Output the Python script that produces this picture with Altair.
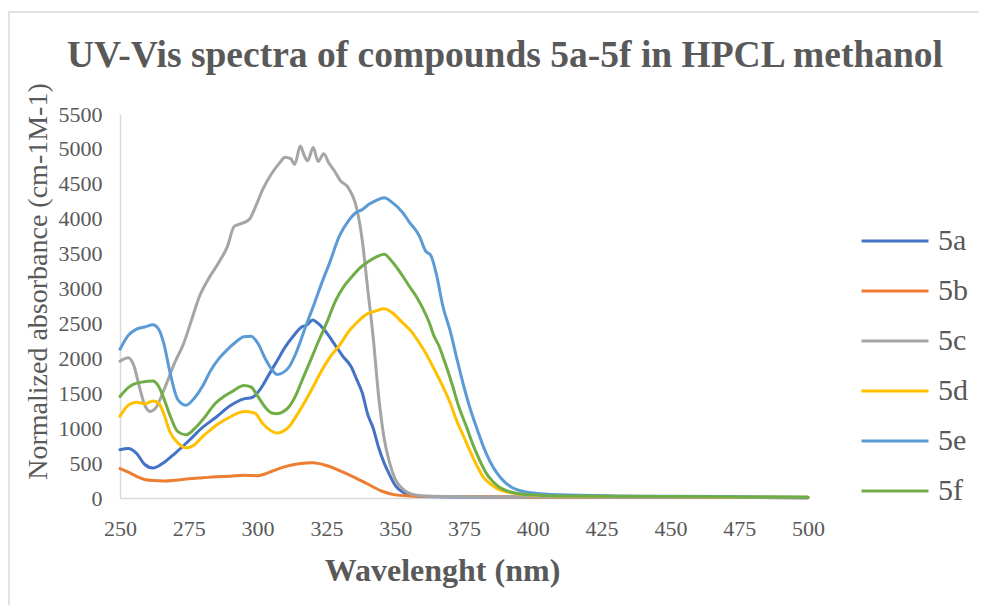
import altair as alt
import pandas as pd

# ---- data ----
wl_5a = [250, 253, 256, 259, 262, 266, 270, 275, 280, 285, 290, 295, 298, 301, 304, 307, 310, 313, 316, 318,
         320, 322, 325, 328, 331, 334, 336, 338, 340, 342, 344, 346, 348, 350, 353, 356, 360, 370, 380, 400, 450, 500]
ab_5a = [690, 710, 640, 480, 430, 510, 640, 820, 1010, 1160, 1320, 1420, 1440, 1560, 1760, 1960, 2160, 2320, 2450, 2480,
         2550, 2500, 2370, 2200, 2030, 1880, 1700, 1510, 1200, 1000, 720, 500, 330, 180, 80, 40, 20, 15, 15, 12, 10, 5]

wl_5b = [250, 253, 256, 259, 262, 266, 270, 275, 280, 285, 290, 295, 300, 305, 310, 315, 320, 325, 330, 335,
         340, 345, 350, 355, 360, 380, 400, 450, 500]
ab_5b = [420, 370, 310, 265, 250, 245, 255, 275, 290, 305, 310, 325, 320, 380, 450, 490, 505, 465, 390, 300,
         200, 100, 45, 30, 25, 20, 12, 10, 5]

wl_5c = [250, 253, 255, 257, 259, 261, 263, 266, 270, 273, 276, 279, 282, 286, 289, 291.5, 294, 297, 299, 302,
         305, 308, 310, 312, 313.5, 315.5, 317, 318.2, 320.2, 322, 324, 326, 328, 330, 333, 336, 338, 340, 342,
         344, 346, 348, 350, 353, 356, 360, 370, 400, 450, 500]
ab_5c = [1960, 2010, 1900, 1600, 1330, 1240, 1290, 1550, 1950, 2200, 2550, 2900, 3130, 3380, 3600, 3890, 3930, 3990, 4150, 4430,
         4640, 4800, 4880, 4860, 4780, 5040, 4900, 4830, 5020, 4820, 4930, 4790, 4680, 4550, 4440, 4150, 3700, 3000, 2300,
         1450, 850, 500, 270, 120, 55, 30, 20, 15, 10, 5]

wl_5d = [250, 253, 256, 259, 262, 264, 266, 268, 271, 274, 277, 280, 283, 286, 290, 293, 296, 299, 302, 305,
         307, 309, 311.5, 314, 317.5, 320, 323.5, 326, 330, 333, 336, 340, 343, 346, 349, 352.7, 356, 358.8, 361, 363,
         365, 367.3, 370, 372.2, 375, 377, 380, 382, 385, 388, 392, 395, 400, 420, 450, 500]
ab_5d = [1170, 1330, 1370, 1350, 1390, 1360, 1200, 960, 790, 720, 760, 880, 980, 1070, 1160, 1220, 1240, 1215, 1060, 960,
         930, 950, 1025, 1170, 1400, 1580, 1840, 2000, 2200, 2380, 2510, 2640, 2680, 2710, 2650, 2510, 2380, 2220, 2080, 1935,
         1780, 1600, 1360, 1120, 870, 690, 440, 300, 190, 115, 75, 57, 40, 25, 20, 10]

wl_5e = [250, 253, 256, 259, 262, 264, 266, 268, 271, 274, 277, 280, 283, 286, 289, 292, 295, 297.5, 300, 303,
         305, 307, 309, 311.5, 314, 317.5, 320, 323.6, 326, 329.7, 333, 335.8, 338, 340.6, 343, 346, 349, 352.7, 355, 358.8,
         361, 363, 365, 367.3, 370, 372.2, 375, 377, 380, 382, 384.5, 387, 390, 393, 397, 401, 410, 430, 450, 500]
ab_5e = [2130, 2330, 2420, 2450, 2480, 2420, 2200, 1830, 1410, 1330, 1430, 1600, 1830, 2000, 2126, 2230, 2310, 2315, 2222, 1980,
         1850, 1770, 1790, 1880, 2080, 2460, 2720, 3110, 3350, 3750, 3970, 4090, 4130, 4210, 4260, 4300, 4230, 4090, 3960, 3750,
         3540, 3470, 3200, 2750, 2390, 2030, 1590, 1310, 960, 740, 520, 355, 220, 140, 90, 67, 45, 30, 25, 10]

wl_5f = [250, 253, 255, 258, 262, 264, 266, 268, 271, 274, 277, 280, 284.8, 288, 291, 295, 297.6, 300, 303, 305,
         307, 309, 311.5, 314, 316.3, 319, 322.4, 325, 328.5, 331, 334.5, 337, 340.6, 343, 346, 349, 352.7, 355, 357.6, 360,
         362.4, 364, 366, 368, 370.9, 373, 375.8, 378, 380.6, 383, 385.5, 388, 391.6, 395, 399, 410, 450, 500]
ab_5f = [1455, 1580, 1630, 1660, 1675, 1600, 1420, 1200, 950, 905, 990, 1120, 1360, 1460, 1530, 1610, 1590, 1460, 1290, 1220,
         1207, 1230, 1310, 1480, 1700, 1950, 2270, 2500, 2840, 3010, 3180, 3290, 3395, 3450, 3490, 3380, 3180, 3040, 2890, 2720,
         2510, 2330, 2170, 1950, 1600, 1320, 1030, 790, 550, 360, 235, 150, 90, 60, 45, 30, 20, 10]

series_names = ["5a", "5b", "5c", "5d", "5e", "5f"]
series_colors = ["#4472C4", "#ED7D31", "#A5A5A5", "#FFC000", "#5B9BD5", "#70AD47"]
x_ticks = [250, 275, 300, 325, 350, 375, 400, 425, 450, 475, 500]
y_ticks = list(range(0, 5501, 500))

title_text = "UV-Vis spectra of compounds 5a-5f in HPCL methanol"
x_title = "Wavelenght (nm)"
y_title = "Normalized absorbance (cm-1M-1)"

# ---- build long table ----
rows = []
for name, wl, ab in zip(series_names,
                        [wl_5a, wl_5b, wl_5c, wl_5d, wl_5e, wl_5f],
                        [ab_5a, ab_5b, ab_5c, ab_5d, ab_5e, ab_5f]):
    for i, (w, a) in enumerate(zip(wl, ab)):
        rows.append({"series": name, "wl": w, "abs": a, "order": i})
df = pd.DataFrame(rows)

FONT = "Liberation Serif"
GRAY = "#595959"

lines = alt.Chart(df).mark_line(strokeWidth=3, interpolate="monotone", strokeCap="round").encode(
    x=alt.X("wl:Q", scale=alt.Scale(domain=[250, 500], nice=False),
            axis=alt.Axis(values=x_ticks, format="d", labelFlush=False, title=x_title, titleFont=FONT,
                          titleFontSize=32, titleFontWeight="bold", titleColor=GRAY,
                          titleBaseline="alphabetic", titleX=322, titleY=82, labelPadding=20)),
    y=alt.Y("abs:Q", scale=alt.Scale(domain=[0, 5500], nice=False),
            axis=alt.Axis(values=y_ticks, format="d", labelFlush=False, title=y_title, titleFont=FONT,
                          titleFontSize=28, titleFontWeight="normal", titleColor=GRAY,
                          titleX=-68, titleY=167, labelPadding=18)),
    color=alt.Color("series:N", scale=alt.Scale(domain=series_names, range=series_colors),
                    legend=alt.Legend(title=None, orient="none", legendX=740, legendY=92,
                                      symbolType="stroke", symbolSize=4489, symbolStrokeWidth=3,
                                      labelFont=FONT, labelFontSize=30, labelColor=GRAY,
                                      labelOffset=8, rowPadding=-22, padding=0)),
    order="order:Q",
)

border = alt.Chart(pd.DataFrame({"k": [0]})).mark_rect(
    fill="transparent", stroke="#d9d9d9", strokeWidth=1.5
).encode(x=alt.value(-111), x2=alt.value(900), y=alt.value(-102), y2=alt.value(620))

chart = alt.layer(border, lines).properties(
    width=688, height=384,
    title=alt.TitleParams(title_text, font=FONT, fontSize=37.5, fontWeight="bold", color=GRAY,
                          anchor="middle", dx=41, offset=-93, baseline="alphabetic"),
    padding={"left": 112, "top": 106, "right": 171, "bottom": 107},
    autosize=alt.AutoSizeParams(type="none"),
).configure_view(strokeWidth=0).configure_axis(
    grid=False, ticks=False, domainColor="#d9d9d9", domainWidth=1.5,
    labelFont=FONT, labelFontSize=22, labelColor=GRAY,
)

chart.save("out.html", embed_options={"renderer": "svg", "actions": False})
